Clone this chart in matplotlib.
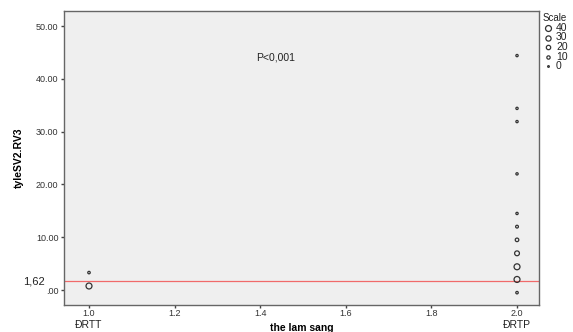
import matplotlib
matplotlib.use('Agg')
import matplotlib.pyplot as plt
from matplotlib.ticker import FuncFormatter

plt.rcParams['font.family'] = ['Liberation Sans', 'DejaVu Sans']

# du lieu
nhom_x = [1.0, 1.0, 2.0, 2.0, 2.0, 2.0, 2.0, 2.0, 2.0, 2.0, 2.0, 2.0, 2.0]
tyle = [0.76, 3.3, 44.4, 34.4, 31.9, 22.0, 14.5, 12.0, 9.5, 6.95, 4.4, 2.0, -0.5]
so_ca = [40, 4, 3, 3, 3, 3, 3, 6, 12, 25, 40, 40, 4]
nguong = 1.62
ten_nhom = ['ĐRTT', 'ĐRTP']
x_nhom = [1.0, 2.0]
scale_vals = [40, 30, 20, 10, 0]

fig = plt.figure(figsize=(5.73, 3.32), dpi=100)
ax = fig.add_axes([0.1117, 0.0813, 0.829, 0.8855])
ax.set_facecolor('#efefef')

def kich_thuoc(n):
    return 1.5 + n * 0.42

ax.scatter(nhom_x, tyle, s=[kich_thuoc(n) for n in so_ca], facecolors='none',
           edgecolors='#333333', linewidths=0.9, zorder=3)
ax.axhline(nguong, color='#f06a6a', lw=0.9, zorder=2)

ax.set_xlim(0.9416, 2.0514)
ax.set_ylim(-2.84, 52.84)
ax.set_xticks([1.0, 1.2, 1.4, 1.6, 1.8, 2.0])
ax.set_yticks([0, 10, 20, 30, 40, 50])
ax.yaxis.set_major_formatter(FuncFormatter(lambda v, p: '.00' if v == 0 else '%.2f' % v))
ax.tick_params(labelsize=6.5, colors='#444444', length=2.5, width=1, labelcolor='#333333', pad=1.5)
ax.tick_params(axis='x', pad=0.5)
for s in ax.spines.values():
    s.set_color('#666666')
    s.set_linewidth(1)

ax.set_ylabel('tyleSV2.RV3', fontsize=7.5, fontweight='bold', labelpad=9)
ax.set_xlabel('the lam sang', fontsize=7.5, fontweight='bold', va='center')
ax.xaxis.set_label_coords(0.5, -0.077)
ax.text(1.435, 44.1, 'P<0,001', fontsize=7.5, ha='center', va='center', color='#222222')

for xv, ten in zip(x_nhom, ten_nhom):
    ax.text(xv, -6.6, ten, fontsize=7.5, ha='center', va='center', color='#222222', clip_on=False)
ax.text(-0.04, nguong, '1,62', transform=ax.get_yaxis_transform(), fontsize=8,
        ha='right', va='center', color='#222222')

# chu giai
fig.text(543 / 573, 1 - 18 / 332, 'Scale', fontsize=7, va='center', ha='left', color='#222222')
for i, v in enumerate(scale_vals):
    yy = 1 - (28 + i * 9.5) / 332
    fig.text(556 / 573, yy, str(v), fontsize=7.5, va='center', ha='left', color='#222222')
    fig.add_artist(plt.Line2D([548 / 573], [yy], marker='o', markersize=(kich_thuoc(v)) ** 0.5,
                              markerfacecolor='none', markeredgecolor='#333333', markeredgewidth=0.9,
                              linestyle='none', transform=fig.transFigure))

fig.savefig('out.png', dpi=100)
